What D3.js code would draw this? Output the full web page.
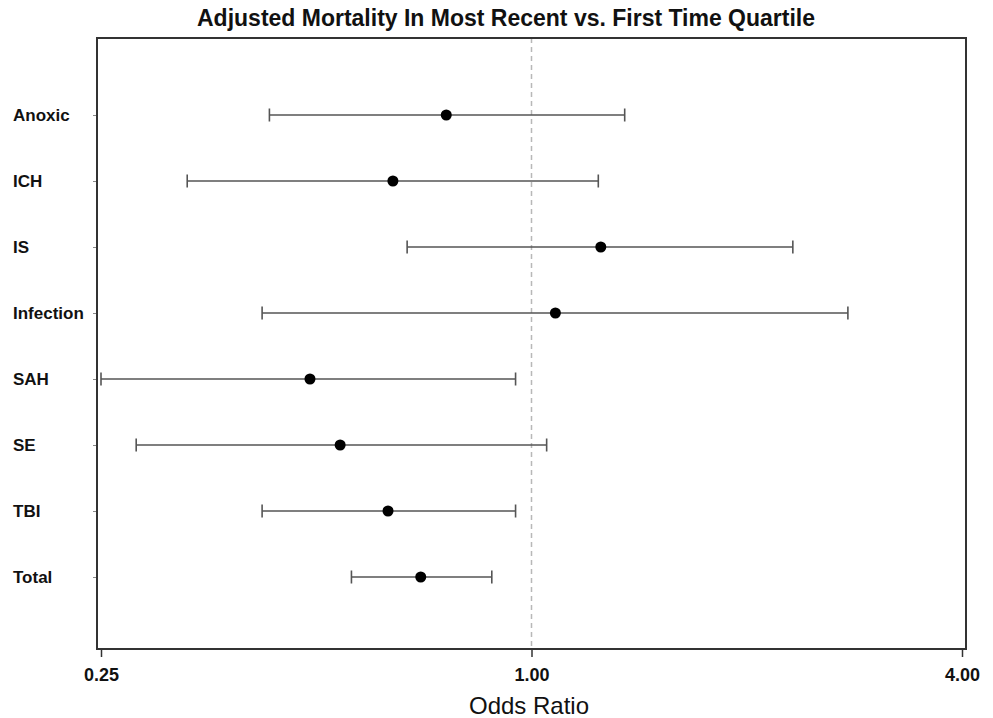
<!DOCTYPE html>
<html>
<head>
<meta charset="utf-8">
<script src="https://cdn.jsdelivr.net/npm/d3@7"></script>
<style>
  body { margin: 0; background: #fff; }
  text { font-family: "Liberation Sans", Arial, sans-serif; }
</style>
</head>
<body>
<svg id="chart" width="993" height="718"></svg>
<script>
// data
const categories = ["Anoxic", "ICH", "IS", "Infection", "SAH", "SE", "TBI", "Total"];
const oddsRatio = [0.76, 0.64, 1.25, 1.08, 0.49, 0.54, 0.63, 0.70];
const lowerCI   = [0.43, 0.33, 0.67, 0.42, 0.25, 0.28, 0.42, 0.56];
const upperCI   = [1.35, 1.24, 2.32, 2.77, 0.95, 1.05, 0.95, 0.88];
const xTicks    = [0.25, 1, 4];

const svg = d3.select("#chart");

let frame = {left: 97, right: 966, top: 38, bottom: 649};

let x = d3.scaleLog().base(2)
    .domain([0.25, 4])
    .range([101, 962]);

let y = d3.scalePoint()
    .domain(categories)
    .range([115, 577]);

let rows = categories.map((c, i) => ({cat: c, or: oddsRatio[i], lo: lowerCI[i], hi: upperCI[i]}));

// title (condensed look)
svg.append("text")
    .attr("x", 197)
    .attr("y", 26)
    .attr("font-weight", "bold")
    .attr("font-size", 23)
    .attr("textLength", 618)
    .attr("lengthAdjust", "spacingAndGlyphs")
    .attr("fill", "#111")
    .text("Adjusted Mortality In Most Recent vs. First Time Quartile");

// reference line at OR = 1
svg.append("line")
    .attr("x1", x(1)).attr("x2", x(1))
    .attr("y1", frame.top).attr("y2", frame.bottom)
    .attr("stroke", "#b8b8b8")
    .attr("stroke-width", 1.5)
    .attr("stroke-dasharray", "5,4");

// x axis
let xAxis = svg.append("g")
    .attr("transform", "translate(0," + frame.bottom + ")")
    .call(d3.axisBottom(x).tickValues(xTicks).tickFormat(d3.format(".2f")).tickSize(8).tickSizeOuter(0));
xAxis.select(".domain").remove();
xAxis.selectAll(".tick line").attr("stroke", "#333").attr("stroke-width", 1.5);
xAxis.selectAll(".tick text")
    .attr("y", 19)
    .attr("font-size", 18)
    .attr("font-weight", "bold")
    .attr("fill", "#111");

// y ticks
let yAxis = svg.append("g")
    .attr("transform", "translate(" + frame.left + ",0)")
    .call(d3.axisLeft(y).tickSize(4).tickSizeOuter(0).tickFormat(""));
yAxis.select(".domain").remove();
yAxis.selectAll(".tick line").attr("stroke", "#888").attr("stroke-width", 1);

// category labels
svg.append("g").selectAll("text")
    .data(categories)
    .join("text")
    .attr("x", 13)
    .attr("y", d => y(d))
    .attr("dy", "0.35em")
    .attr("font-size", 17)
    .attr("font-weight", "bold")
    .attr("fill", "#111")
    .text(d => d);

// frame
svg.append("rect")
    .attr("x", frame.left)
    .attr("y", frame.top)
    .attr("width", frame.right - frame.left)
    .attr("height", frame.bottom - frame.top)
    .attr("fill", "none")
    .attr("stroke", "#333")
    .attr("stroke-width", 2);

// error bars
let bars = svg.append("g").selectAll("g")
    .data(rows)
    .join("g")
    .attr("stroke", "#555")
    .attr("stroke-width", 1.6);

bars.append("line")
    .attr("x1", d => x(d.lo)).attr("x2", d => x(d.hi))
    .attr("y1", d => y(d.cat)).attr("y2", d => y(d.cat));

bars.append("line")
    .attr("x1", d => x(d.lo)).attr("x2", d => x(d.lo))
    .attr("y1", d => y(d.cat) - 6.5).attr("y2", d => y(d.cat) + 6.5);

bars.append("line")
    .attr("x1", d => x(d.hi)).attr("x2", d => x(d.hi))
    .attr("y1", d => y(d.cat) - 6.5).attr("y2", d => y(d.cat) + 6.5);

// point estimates
svg.append("g").selectAll("circle")
    .data(rows)
    .join("circle")
    .attr("cx", d => x(d.or))
    .attr("cy", d => y(d.cat))
    .attr("r", 5.5)
    .attr("fill", "#000");

// x axis title
svg.append("text")
    .attr("x", 529)
    .attr("y", 714)
    .attr("text-anchor", "middle")
    .attr("font-size", 24)
    .attr("fill", "#111")
    .text("Odds Ratio");
</script>
</body>
</html>
